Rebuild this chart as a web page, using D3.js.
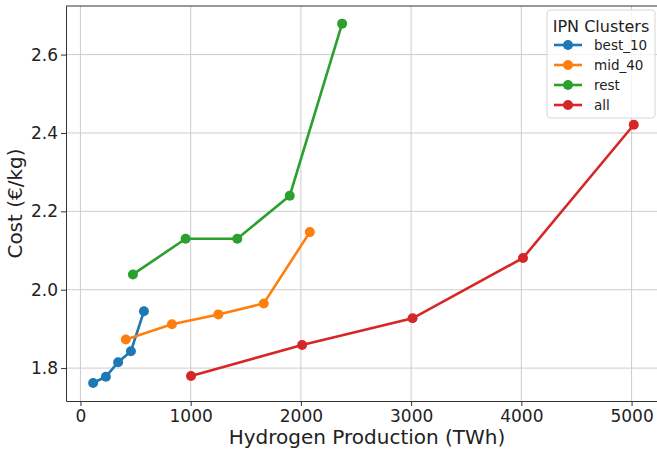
<!DOCTYPE html>
<html>
<head>
<meta charset="utf-8">
<script src="https://cdn.jsdelivr.net/npm/d3@7"></script>
<style>
  body { margin: 0; background: white; }
  svg { display: block; font-family: "DejaVu Sans", sans-serif; }
</style>
</head>
<body>
<div id="chart"></div>
<script>
// values
const seriesNames = ["best_10", "mid_40", "rest", "all"];
const seriesColors = ["#1f77b4", "#ff7f0e", "#2ca02c", "#d62728"];

const best10X = [115, 231, 342, 458, 576];
const best10Y = [1.762, 1.778, 1.815, 1.843, 1.945];

const mid40X = [412, 830, 1251, 1663, 2081];
const mid40Y = [1.873, 1.912, 1.937, 1.965, 2.147];

const restX = [476, 954, 1423, 1899, 2374];
const restY = [2.039, 2.130, 2.130, 2.240, 2.679];

const allX = [1003, 2011, 3013, 4015, 5020];
const allY = [1.780, 1.859, 1.927, 2.081, 2.421];

const xTicks = [0, 1000, 2000, 3000, 4000, 5000];
const yTicks = [1.8, 2.0, 2.2, 2.4, 2.6];

const width = 657, height = 452;
const margin = { top: 6, right: -5, bottom: 51, left: 66 };

const svg = d3.select("#chart").append("svg")
    .attr("width", width)
    .attr("height", height);

const x = d3.scaleLinear().domain([-131, 5276]).range([margin.left, width - margin.right]);
const y = d3.scaleLinear().domain([1.716, 2.724]).range([height - margin.bottom, margin.top]);

const series = [
    { name: seriesNames[0], xs: best10X, ys: best10Y },
    { name: seriesNames[1], xs: mid40X, ys: mid40Y },
    { name: seriesNames[2], xs: restX, ys: restY },
    { name: seriesNames[3], xs: allX, ys: allY }
].map((s, i) => ({ name: s.name, color: seriesColors[i], pts: s.xs.map((v, j) => [v, s.ys[j]]) }));

// grid
const grid = svg.append("g").attr("stroke", "#cccccc").attr("stroke-width", 1);
xTicks.forEach(t => grid.append("line")
    .attr("x1", x(t)).attr("x2", x(t))
    .attr("y1", y.range()[0]).attr("y2", y.range()[1]));
yTicks.forEach(t => grid.append("line")
    .attr("x1", x.range()[0]).attr("x2", x.range()[1])
    .attr("y1", y(t)).attr("y2", y(t)));

// axes
const xAxis = svg.append("g")
    .attr("transform", "translate(0," + y.range()[0] + ")")
    .call(d3.axisBottom(x).tickValues(xTicks).tickFormat(d3.format("d"))
        .tickSizeInner(5).tickSizeOuter(0).tickPadding(4));
const yAxis = svg.append("g")
    .attr("transform", "translate(" + x.range()[0] + ",0)")
    .call(d3.axisLeft(y).tickValues(yTicks).tickFormat(d3.format(".1f"))
        .tickSizeInner(5).tickSizeOuter(0).tickPadding(3));

[xAxis, yAxis].forEach(a => {
    a.selectAll("text").attr("font-size", 17).attr("fill", "#222").attr("font-family", "DejaVu Sans");
    a.selectAll("line").attr("stroke", "#333");
    a.select(".domain").attr("stroke", "#333");
});

// top frame line
svg.append("line")
    .attr("x1", x.range()[0]).attr("x2", x.range()[1])
    .attr("y1", y.range()[1]).attr("y2", y.range()[1])
    .attr("stroke", "#333");

svg.append("text")
    .attr("x", 367).attr("y", 444)
    .attr("text-anchor", "middle")
    .attr("font-size", 20)
    .attr("fill", "#222")
    .text("Hydrogen Production (TWh)");

svg.append("text")
    .attr("transform", "translate(22," + ((y.range()[0] + y.range()[1]) / 2) + ") rotate(-90)")
    .attr("text-anchor", "middle")
    .attr("font-size", 20)
    .attr("fill", "#222")
    .text("Cost (€/kg)");

// lines and markers
const line = d3.line().x(d => x(d[0])).y(d => y(d[1]));
series.forEach(s => {
    const g = svg.append("g");
    g.append("path")
        .attr("d", line(s.pts))
        .attr("fill", "none")
        .attr("stroke", s.color)
        .attr("stroke-width", 2.6);
    g.selectAll("circle")
        .data(s.pts)
        .enter()
        .append("circle")
        .attr("cx", d => x(d[0]))
        .attr("cy", d => y(d[1]))
        .attr("r", 5)
        .attr("fill", s.color);
});

// legend
const legend = svg.append("g").attr("transform", "translate(547,10)");
legend.append("rect")
    .attr("width", 108).attr("height", 108)
    .attr("rx", 3)
    .attr("fill", "white").attr("fill-opacity", 0.8)
    .attr("stroke", "#d6d6d6");
legend.append("text")
    .attr("x", 54).attr("y", 22)
    .attr("text-anchor", "middle")
    .attr("font-size", 16)
    .attr("fill", "#222")
    .text("IPN Clusters");
series.forEach((s, i) => {
    const ly = 35 + i * 20;
    legend.append("line")
        .attr("x1", 7).attr("x2", 35)
        .attr("y1", ly).attr("y2", ly)
        .attr("stroke", s.color).attr("stroke-width", 2.6);
    legend.append("circle")
        .attr("cx", 21).attr("cy", ly).attr("r", 5).attr("fill", s.color);
    legend.append("text")
        .attr("x", 47).attr("y", ly + 5)
        .attr("font-size", 13.5)
        .attr("fill", "#222")
        .text(s.name);
});
</script>
</body>
</html>
